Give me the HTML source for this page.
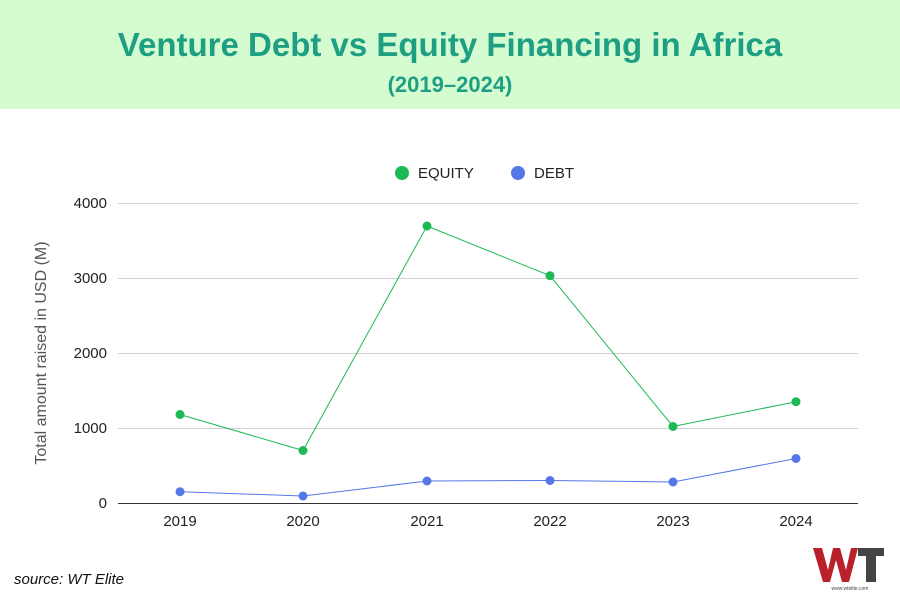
<!DOCTYPE html>
<html><head><meta charset="utf-8"><style>
body{margin:0;width:900px;height:600px;background:#fff;overflow:hidden;font-family:"Liberation Sans",sans-serif}
</style></head><body>
<svg width="900" height="600" xmlns="http://www.w3.org/2000/svg" font-family="Liberation Sans, sans-serif">
<rect x="0" y="0" width="900" height="109" fill="#d5fcd0"/>
<text x="450" y="56" text-anchor="middle" font-size="33" font-weight="bold" fill="#1e9e82">Venture Debt vs Equity Financing in Africa</text>
<text x="450" y="92" text-anchor="middle" font-size="22" font-weight="bold" fill="#1e9e82">(2019–2024)</text>
<g stroke="#d0d0d0" stroke-width="1">
<line x1="118" x2="858" y1="203.5" y2="203.5"/><line x1="118" x2="858" y1="278.5" y2="278.5"/>
<line x1="118" x2="858" y1="353.5" y2="353.5"/><line x1="118" x2="858" y1="428.5" y2="428.5"/>
</g>
<line x1="118" x2="858" y1="503.5" y2="503.5" stroke="#333"/>
<g font-size="15" fill="#222" text-anchor="end">
<text x="107" y="208">4000</text><text x="107" y="283">3000</text><text x="107" y="358">2000</text><text x="107" y="433">1000</text><text x="107" y="508">0</text>
</g>
<g font-size="15" fill="#222" text-anchor="middle">
<text x="180" y="526">2019</text><text x="303" y="526">2020</text><text x="427" y="526">2021</text><text x="550" y="526">2022</text><text x="673" y="526">2023</text><text x="796" y="526">2024</text>
</g>
<text transform="translate(46,353) rotate(-90)" text-anchor="middle" font-size="16" fill="#555">Total amount raised in USD (M)</text>
<circle cx="402" cy="173" r="7" fill="#1db954"/><text x="418" y="178" font-size="15" fill="#222">EQUITY</text>
<circle cx="518" cy="173" r="7" fill="#5577e8"/><text x="534" y="178" font-size="15" fill="#222">DEBT</text>
<polyline fill="none" stroke="#1db954" stroke-width="1" points="180,414.5 303,450.5 427,226 550,275.7 673,426.5 796,401.7"/>
<g fill="#1db954"><circle cx="180" cy="414.5" r="4.5"/><circle cx="303" cy="450.5" r="4.5"/><circle cx="427" cy="226" r="4.5"/><circle cx="550" cy="275.7" r="4.5"/><circle cx="673" cy="426.5" r="4.5"/><circle cx="796" cy="401.7" r="4.5"/></g>
<polyline fill="none" stroke="#5577e8" stroke-width="1" points="180,491.7 303,496 427,481 550,480.5 673,482 796,458.5"/>
<g fill="#5577e8"><circle cx="180" cy="491.7" r="4.5"/><circle cx="303" cy="496" r="4.5"/><circle cx="427" cy="481" r="4.5"/><circle cx="550" cy="480.5" r="4.5"/><circle cx="673" cy="482" r="4.5"/><circle cx="796" cy="458.5" r="4.5"/></g>
<text x="14" y="584" font-size="15" font-style="italic" fill="#111">source: WT Elite</text>
<polygon points="813,548 822,548 828,570 833,548 840,548 846,570 851,548 858,548 849,582 842,582 836,560 830,582 823,582" fill="#b8202a"/>
<rect x="858" y="548" width="26" height="8" fill="#444"/><rect x="866" y="548" width="10" height="34" fill="#444"/>
<text x="850" y="590" font-size="5" fill="#444" text-anchor="middle">www.wtelite.com</text>
</svg>
</body></html>
